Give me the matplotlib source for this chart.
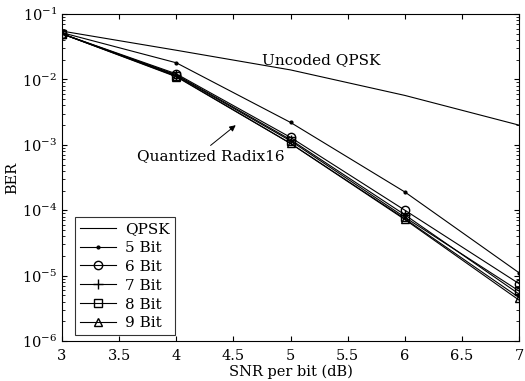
import numpy as np
import matplotlib.pyplot as plt

plt.rcParams['font.family'] = ['DejaVu Serif']
plt.rcParams['mathtext.fontset'] = 'dejavuserif'

snr = [3, 4, 5, 6, 7]
uncoded = [0.055, 0.028, 0.014, 5.7e-3, 2.0e-3]
qpsk = [0.05, 0.0112, 1.05e-3, 7.2e-5, 4.2e-6]
bit5 = [0.052, 0.018, 2.2e-3, 1.9e-4, 1.1e-5]
bit6 = [0.05, 0.0122, 1.3e-3, 1.0e-4, 7.5e-6]
bit7 = [0.05, 0.0118, 1.2e-3, 8.5e-5, 5.2e-6]
bit8 = [0.05, 0.0115, 1.15e-3, 7.8e-5, 5.8e-6]
bit9 = [0.05, 0.011, 1.05e-3, 7.4e-5, 4.6e-6]

fig = plt.figure(figsize=(5.25, 3.81), dpi=100)
ax = fig.add_axes([0.118, 0.105, 0.871, 0.858])

lw = 0.8
ax.plot(snr, uncoded, color='k', lw=lw)
ax.plot(snr, qpsk, color='k', lw=lw, label='QPSK')
ax.plot(snr, bit5, color='k', lw=lw, marker='.', ms=4, label='5 Bit')
ax.plot(snr, bit6, color='k', lw=lw, marker='o', ms=6, mfc='none', label='6 Bit')
ax.plot(snr, bit7, color='k', lw=lw, marker='+', ms=7, label='7 Bit')
ax.plot(snr, bit8, color='k', lw=lw, marker='s', ms=6, mfc='none', label='8 Bit')
ax.plot(snr, bit9, color='k', lw=lw, marker='^', ms=6, mfc='none', label='9 Bit')

ax.set_yscale('log')
ax.set_xlim(3, 7)
ax.set_ylim(1e-6, 1e-1)
ax.set_xticks([3, 3.5, 4, 4.5, 5, 5.5, 6, 6.5, 7])
ax.set_xticklabels(['3', '3.5', '4', '4.5', '5', '5.5', '6', '6.5', '7'])
ax.tick_params(which='both', direction='in', top=True, right=True, labelsize=10.5)
ax.tick_params(axis='x', pad=6)
ax.set_xlabel('SNR per bit (dB)', fontsize=10.5, labelpad=1)
ax.set_ylabel('BER', fontsize=10.5, labelpad=2)

ax.text(4.75, 0.02, 'Uncoded QPSK', fontsize=11, va='center', ha='left')
ax.text(4.3, 6.8e-4, 'Quantized Radix16', fontsize=11, va='center', ha='center')
ax.annotate('', xy=(4.52, 2.0e-3), xytext=(4.3, 9.8e-4),
            arrowprops=dict(arrowstyle='-|>', color='k', lw=0.7,
                            shrinkA=0, shrinkB=0, mutation_scale=9))

leg = ax.legend(loc='lower left', bbox_to_anchor=(0.012, -0.005), fontsize=11,
                frameon=True, fancybox=False, edgecolor='k', handlelength=2.4,
                borderpad=0.3, labelspacing=0.32, handletextpad=0.6)
leg.get_frame().set_linewidth(0.8)

fig.savefig('out.png', dpi=100)
